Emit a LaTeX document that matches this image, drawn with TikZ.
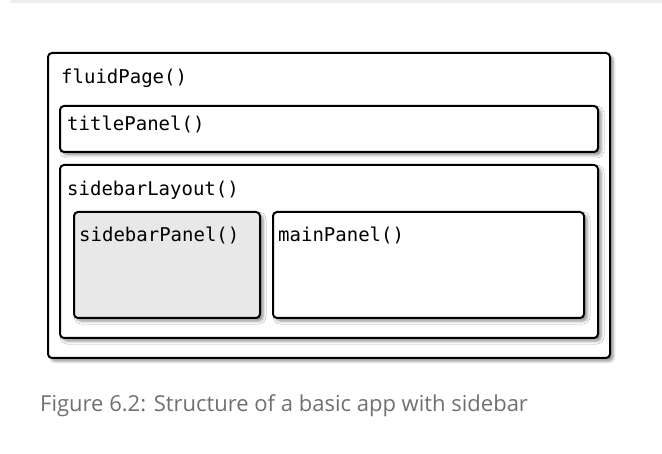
\documentclass[tikz,border=0pt]{standalone}
\usepackage{fontspec}
\setmonofont{DejaVu Sans Mono}
\newfontfamily\capfont{Open Sans}
\usetikzlibrary{shadows.blur}
\definecolor{sidegray}{HTML}{E8E8E8}
\definecolor{capgray}{HTML}{707070}
\definecolor{bandgray}{HTML}{EEEEEE}
\begin{document}
\begin{tikzpicture}[x=1pt,y=-1pt,
  panel/.style={draw=black, line width=2pt, rounded corners=4pt, fill=white,
    blur shadow={shadow xshift=3pt, shadow yshift=-3pt, shadow blur radius=3pt, shadow opacity=45},
    anchor=north west, inner sep=0pt},
  lbl/.style={anchor=base west, inner sep=0pt, font=\ttfamily\fontsize{19}{22}\selectfont}]
\useasboundingbox (0,0) rectangle (662,454);
\fill[bandgray] (10,0) rectangle (662,3);
\node[panel, minimum width=562pt, minimum height=305pt] (page) at (47,52) {};
\node[lbl] (pagelbl) at (61,84) {fluidPage()};
\node[panel, minimum width=538pt, minimum height=46pt] (title) at (59,105) {};
\node[lbl] (titlelbl) at (67,131) {titlePanel()};
\node[panel, minimum width=538pt, minimum height=173pt] (layout) at (59,164) {};
\node[lbl] (layoutlbl) at (67,196) {sidebarLayout()};
\node[panel, fill=sidegray, minimum width=186pt, minimum height=106pt] (side) at (73,211) {};
\node[lbl] (sidelbl) at (79,242) {sidebarPanel()};
\node[panel, minimum width=311pt, minimum height=106pt] (main) at (272,211) {};
\node[lbl] (mainlbl) at (278,242) {mainPanel()};
\node[anchor=base west, inner sep=0pt, text=capgray, font=\capfont\fontsize{22}{26}\selectfont] (cap) at (40,412) {Figure 6.2: Structure of a basic app with sidebar};
\end{tikzpicture}
\end{document}
